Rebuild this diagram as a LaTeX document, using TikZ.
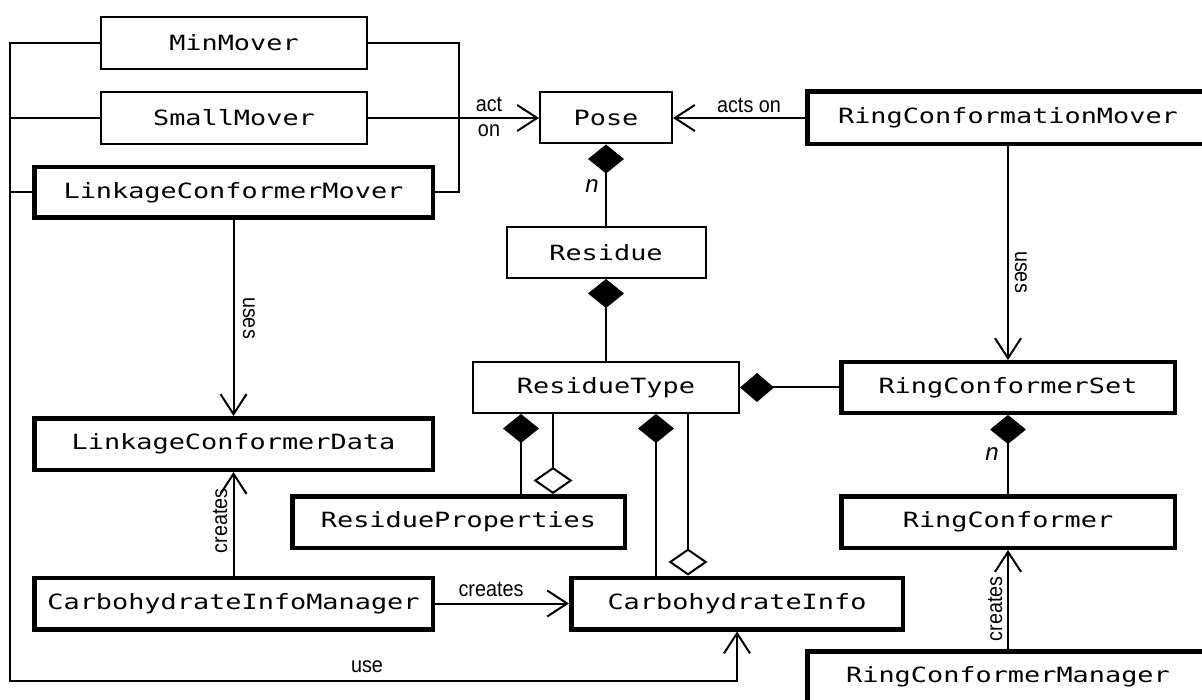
\documentclass[tikz,border=0pt]{standalone}
\usepackage{fontspec}
\usetikzlibrary{arrows.meta}
\newfontfamily\boxfont[FakeStretch=1.28]{DejaVu Sans Mono}
\newfontfamily\lblfont[FakeStretch=0.9]{Liberation Sans}
\newfontfamily\multfont{Liberation Sans}
\begin{document}
\begin{tikzpicture}[x=1pt,y=-1pt,
  thinbox/.style={draw, line width=2pt, inner sep=0pt, font=\boxfont\fontsize{21}{25}\selectfont},
  thickbox/.style={draw, line width=4.5pt, inner sep=0pt, font=\boxfont\fontsize{21}{25}\selectfont},
  conn/.style={line width=2pt},
  openarr/.style={-{Straight Barb[length=20pt,width=26pt]}},
  diam/.style={{Diamond[length=29pt,width=36pt]}-},
  diamH/.style={{Diamond[length=34pt,width=29pt]}-},
  odiam/.style={-{Diamond[open,length=27pt,width=39pt]}},
  lbl/.style={inner sep=0pt, font=\lblfont\fontsize{22}{24}\selectfont},
  mult/.style={inner sep=0pt, font=\multfont\itshape\fontsize{24}{26}\selectfont}]
\useasboundingbox (0,0) rectangle (1202,700);
% boxes
\node[thinbox, minimum width=266pt, minimum height=52pt] (minmover) at (234,43) {MinMover};
\node[thinbox, minimum width=266pt, minimum height=52pt] (smallmover) at (234,118) {SmallMover};
\node[thinbox, minimum width=132pt, minimum height=51pt] (pose) at (606,118) {Pose};
\node[thinbox, minimum width=199pt, minimum height=51pt] (residue) at (606,252.5) {Residue};
\node[thinbox, minimum width=266pt, minimum height=51pt] (restype) at (606,387.5) {ResidueType};
\node[thickbox, minimum width=398.5pt, minimum height=50.5pt] (lcm) at (233.5,192.5) {LinkageConformerMover};
\node[thickbox, minimum width=401.5pt, minimum height=52.5pt] (rcm) at (1008,118) {RingConformationMover};
\node[thickbox, minimum width=333.5pt, minimum height=50.5pt] (rcs) at (1008,387.5) {RingConformerSet};
\node[thickbox, minimum width=398.5pt, minimum height=51.5pt] (lcd) at (233.5,444) {LinkageConformerData};
\node[thickbox, minimum width=332.5pt, minimum height=51.5pt] (rprop) at (458.5,522) {ResidueProperties};
\node[thickbox, minimum width=333.5pt, minimum height=51.5pt] (rc) at (1008,522) {RingConformer};
\node[thickbox, minimum width=398.5pt, minimum height=51.5pt] (cim) at (233.5,603.5) {CarbohydrateInfoManager};
\node[thickbox, minimum width=331.5pt, minimum height=51.5pt] (cinfo) at (737,603.5) {CarbohydrateInfo};
\node[thickbox, minimum width=401.5pt, minimum height=51.5pt] (rcmgr) at (1008,677) {RingConformerManager};
% helper coordinates
\coordinate (bt) at (10,43);
\coordinate (bb) at (10,681);
\coordinate (rbt) at (459,43);
\coordinate (xa) at (521,0);
\coordinate (xb) at (553,0);
\coordinate (xc) at (656,0);
\coordinate (xd) at (688,0);
% buses
\draw[conn, openarr] (minmover.west) -- (bt) -- (bb) -| (cinfo.south);
\draw[conn] (smallmover.west) -- (smallmover.west -| bt);
\draw[conn] (lcm.west) -- (lcm.west -| bt);
\draw[conn] (minmover.east) -- (rbt) |- (lcm.east);
% associations
\draw[conn, openarr] (smallmover.east) -- (pose.west);
\draw[conn, openarr] (rcm.west) -- (pose.east);
\draw[conn, openarr] (rcm.south) -- (rcs.north);
\draw[conn, openarr] (lcm.south) -- (lcd.north);
\draw[conn, openarr] (cim.north) -- (lcd.south);
\draw[conn, openarr] (cim.east) -- (cinfo.west);
\draw[conn, openarr] (rcmgr.north) -- (rc.south);
% compositions
\draw[conn, diam] (pose.south) -- (residue.north);
\draw[conn, diam] (residue.south) -- (restype.north);
\draw[conn, diamH] (restype.east) -- (rcs.west);
\draw[conn, diam] (rcs.south) -- (rc.north);
\draw[conn, diam] (restype.south -| xa) -- (rprop.north -| xa);
\draw[conn, odiam] (restype.south -| xb) -- (rprop.north -| xb);
\draw[conn, diam] (restype.south -| xc) -- (cinfo.north -| xc);
\draw[conn, odiam] (restype.south -| xd) -- (cinfo.north -| xd);
% labels
\node[lbl] (l1) at (489,104) {act};
\node[lbl] (l2) at (489,131) {on};
\node[lbl] (l3) at (749,105) {acts on};
\node[lbl, rotate=-90] (l4) at (249,318) {uses};
\node[lbl, rotate=-90] (l5) at (1021,272) {uses};
\node[lbl, rotate=90] (l6) at (220,521) {creates};
\node[lbl] (l7) at (491,589) {creates};
\node[lbl, rotate=90] (l8) at (995,609) {creates};
\node[lbl] (l9) at (367,667) {use};
\node[mult] (n1) at (592,186) {n};
\node[mult] (n2) at (992,454) {n};
\end{tikzpicture}
\end{document}
